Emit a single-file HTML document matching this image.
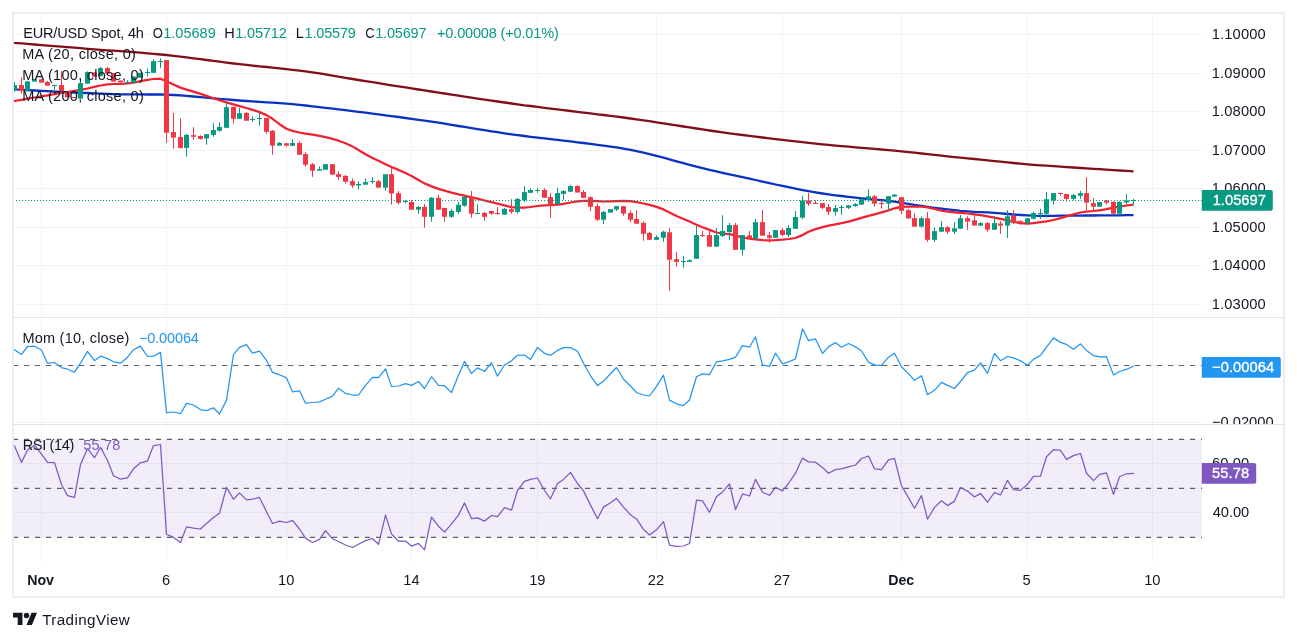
<!DOCTYPE html>
<html><head><meta charset="utf-8"><title>EUR/USD Spot 4h</title>
<style>html,body{margin:0;padding:0;background:#fff}body{width:1297px;height:641px;overflow:hidden}</style></head>
<body>
<svg width="1297" height="641" viewBox="0 0 1297 641" style="display:block;font-family:'Liberation Sans',sans-serif;will-change:transform;opacity:0.999">
<rect width="1297" height="641" fill="#fff"/>
<defs><clipPath id="cpMain"><rect x="14" y="14" width="1188" height="303"/></clipPath><clipPath id="cpMom"><rect x="14" y="318" width="1269" height="106"/></clipPath><clipPath id="cpRsi"><rect x="14" y="425" width="1269" height="137"/></clipPath></defs>
<rect x="41" y="14" width="1" height="548" fill="#f1f3f5"/>
<rect x="166" y="14" width="1" height="548" fill="#f1f3f5"/>
<rect x="286" y="14" width="1" height="548" fill="#f1f3f5"/>
<rect x="411" y="14" width="1" height="548" fill="#f1f3f5"/>
<rect x="537" y="14" width="1" height="548" fill="#f1f3f5"/>
<rect x="656" y="14" width="1" height="548" fill="#f1f3f5"/>
<rect x="782" y="14" width="1" height="548" fill="#f1f3f5"/>
<rect x="901" y="14" width="1" height="548" fill="#f1f3f5"/>
<rect x="1027" y="14" width="1" height="548" fill="#f1f3f5"/>
<rect x="1152" y="14" width="1" height="548" fill="#f1f3f5"/>
<rect x="14" y="34" width="1188" height="1" fill="#f1f3f5"/>
<rect x="14" y="73" width="1188" height="1" fill="#f1f3f5"/>
<rect x="14" y="111" width="1188" height="1" fill="#f1f3f5"/>
<rect x="14" y="150" width="1188" height="1" fill="#f1f3f5"/>
<rect x="14" y="188" width="1188" height="1" fill="#f1f3f5"/>
<rect x="14" y="227" width="1188" height="1" fill="#f1f3f5"/>
<rect x="14" y="265" width="1188" height="1" fill="#f1f3f5"/>
<rect x="14" y="304" width="1188" height="1" fill="#f1f3f5"/>
<rect x="14" y="365" width="1188" height="1" fill="#f1f3f5"/>
<rect x="14" y="422" width="1188" height="1" fill="#f1f3f5"/>
<rect x="14" y="463" width="1188" height="1" fill="#f1f3f5"/>
<rect x="14" y="512" width="1188" height="1" fill="#f1f3f5"/>
<rect x="14" y="439.4" width="1188" height="98.0" fill="#7e57c2" fill-opacity="0.1"/>
<rect x="13" y="317" width="1270" height="1" fill="#e0e3eb"/>
<rect x="13" y="424" width="1270" height="1" fill="#e0e3eb"/>
<path d="M12 12H1285V598H12Z M14 14V596H1283V14Z" fill="#ebedf2" fill-rule="evenodd"/>
<path d="M13.7 42.8 L14.5 42.9 L21.5 43.4 L27.5 43.9 L34.5 44.5 L41.5 45.1 L47.5 45.6 L54.5 46.1 L61.5 46.7 L67.5 47.2 L74.5 47.7 L80.5 48.2 L87.5 48.8 L94.5 49.3 L100.5 49.8 L107.5 50.3 L113.5 50.7 L120.5 51.2 L127.5 51.7 L133.5 52.2 L140.5 52.7 L147.5 53.3 L153.5 53.8 L160.5 54.5 L166.5 55.0 L173.5 55.8 L180.5 56.6 L186.5 57.4 L193.5 58.3 L200.5 59.2 L206.5 60.0 L213.5 60.9 L219.5 61.7 L226.5 62.6 L233.5 63.5 L239.5 64.2 L246.5 64.9 L252.5 65.6 L259.5 66.3 L266.5 67.0 L272.5 67.7 L279.5 68.4 L286.5 69.2 L292.5 69.8 L299.5 70.7 L305.5 71.4 L312.5 72.3 L319.5 73.3 L325.5 74.4 L332.5 75.6 L338.5 76.7 L345.5 77.8 L352.5 79.0 L358.5 80.0 L365.5 81.1 L372.5 82.2 L378.5 83.2 L385.5 84.3 L391.5 85.3 L398.5 86.4 L405.5 87.4 L411.5 88.4 L418.5 89.5 L424.5 90.4 L431.5 91.5 L438.5 92.6 L444.5 93.5 L451.5 94.6 L458.5 95.7 L464.5 96.6 L471.5 97.7 L477.5 98.6 L484.5 99.6 L491.5 100.6 L497.5 101.5 L504.5 102.5 L511.5 103.5 L517.5 104.3 L524.5 105.3 L530.5 106.0 L537.5 106.9 L544.5 107.8 L550.5 108.6 L557.5 109.4 L563.5 110.2 L570.5 111.0 L577.5 111.8 L583.5 112.6 L590.5 113.4 L597.5 114.3 L603.5 115.0 L610.5 115.9 L616.5 116.6 L623.5 117.5 L630.5 118.5 L636.5 119.3 L643.5 120.3 L649.5 121.2 L656.5 122.3 L663.5 123.3 L669.5 124.3 L676.5 125.4 L683.5 126.5 L689.5 127.4 L696.5 128.5 L702.5 129.4 L709.5 130.5 L716.5 131.5 L722.5 132.4 L729.5 133.3 L735.5 134.1 L742.5 135.0 L749.5 135.9 L755.5 136.7 L762.5 137.5 L769.5 138.4 L775.5 139.1 L782.5 139.9 L788.5 140.6 L795.5 141.4 L802.5 142.2 L808.5 142.8 L815.5 143.6 L822.5 144.3 L828.5 144.9 L835.5 145.6 L841.5 146.1 L848.5 146.7 L855.5 147.3 L861.5 147.8 L868.5 148.4 L874.5 148.9 L881.5 149.5 L888.5 150.1 L894.5 150.7 L901.5 151.3 L908.5 152.1 L914.5 152.7 L921.5 153.5 L927.5 154.1 L934.5 154.9 L941.5 155.7 L947.5 156.3 L954.5 157.1 L960.5 157.7 L967.5 158.3 L974.5 159.0 L980.5 159.6 L987.5 160.4 L994.5 161.1 L1000.5 161.7 L1007.5 162.4 L1013.5 163.0 L1020.5 163.7 L1027.5 164.3 L1033.5 164.8 L1040.5 165.3 L1046.5 165.7 L1053.5 166.2 L1060.5 166.7 L1066.5 167.1 L1073.5 167.5 L1080.5 168.0 L1086.5 168.4 L1093.5 168.8 L1099.5 169.2 L1106.5 169.7 L1113.5 170.1 L1119.5 170.5 L1126.5 170.9 L1133.5 171.4" fill="none" stroke="#800f1a" stroke-width="2.35" stroke-linejoin="round" stroke-linecap="butt" clip-path="url(#cpMain)"/>
<path d="M13.7 89.2 L14.5 89.3 L21.5 89.7 L27.5 90.1 L34.5 90.5 L41.5 90.9 L47.5 91.2 L54.5 91.6 L61.5 91.9 L67.5 92.2 L74.5 92.5 L80.5 92.8 L87.5 93.0 L94.5 93.3 L100.5 93.6 L107.5 93.9 L113.5 94.1 L120.5 94.3 L127.5 94.4 L133.5 94.4 L140.5 94.4 L147.5 94.5 L153.5 94.5 L160.5 94.5 L166.5 94.7 L173.5 95.0 L180.5 95.4 L186.5 95.9 L193.5 96.5 L200.5 97.1 L206.5 97.7 L213.5 98.3 L219.5 98.9 L226.5 99.4 L233.5 100.0 L239.5 100.5 L246.5 101.0 L252.5 101.4 L259.5 101.9 L266.5 102.3 L272.5 102.7 L279.5 103.1 L286.5 103.6 L292.5 104.1 L299.5 104.8 L305.5 105.5 L312.5 106.3 L319.5 107.1 L325.5 107.8 L332.5 108.7 L338.5 109.4 L345.5 110.2 L352.5 111.1 L358.5 111.8 L365.5 112.7 L372.5 113.6 L378.5 114.4 L385.5 115.3 L391.5 116.1 L398.5 117.0 L405.5 118.0 L411.5 118.8 L418.5 119.8 L424.5 120.6 L431.5 121.7 L438.5 122.7 L444.5 123.7 L451.5 124.8 L458.5 126.0 L464.5 126.9 L471.5 128.1 L477.5 129.1 L484.5 130.2 L491.5 131.3 L497.5 132.2 L504.5 133.3 L511.5 134.3 L517.5 135.1 L524.5 136.0 L530.5 136.8 L537.5 137.6 L544.5 138.4 L550.5 139.1 L557.5 139.9 L563.5 140.6 L570.5 141.4 L577.5 142.3 L583.5 143.0 L590.5 143.9 L597.5 144.8 L603.5 145.6 L610.5 146.6 L616.5 147.4 L623.5 148.6 L630.5 149.9 L636.5 151.1 L643.5 152.7 L649.5 154.1 L656.5 155.9 L663.5 157.7 L669.5 159.3 L676.5 161.3 L683.5 163.2 L689.5 164.8 L696.5 166.6 L702.5 168.1 L709.5 169.8 L716.5 171.4 L722.5 172.8 L729.5 174.3 L735.5 175.6 L742.5 177.1 L749.5 178.7 L755.5 180.0 L762.5 181.6 L769.5 183.2 L775.5 184.5 L782.5 185.9 L788.5 187.2 L795.5 188.7 L802.5 190.1 L808.5 191.2 L815.5 192.4 L822.5 193.5 L828.5 194.4 L835.5 195.3 L841.5 196.0 L848.5 196.8 L855.5 197.6 L861.5 198.3 L868.5 199.0 L874.5 199.6 L881.5 200.2 L888.5 200.9 L894.5 201.7 L901.5 202.8 L908.5 203.9 L914.5 204.9 L921.5 205.9 L927.5 206.8 L934.5 207.8 L941.5 208.7 L947.5 209.4 L954.5 210.1 L960.5 210.8 L967.5 211.4 L974.5 211.9 L980.5 212.1 L987.5 212.4 L994.5 212.8 L1000.5 213.4 L1007.5 214.0 L1013.5 214.5 L1020.5 215.0 L1027.5 215.4 L1033.5 215.7 L1040.5 215.8 L1046.5 215.8 L1053.5 215.8 L1060.5 215.7 L1066.5 215.7 L1073.5 215.6 L1080.5 215.6 L1086.5 215.5 L1093.5 215.5 L1099.5 215.4 L1106.5 215.3 L1113.5 215.3 L1119.5 215.3 L1126.5 215.2 L1133.5 215.2" fill="none" stroke="#0a32c2" stroke-width="2.3" stroke-linejoin="round" stroke-linecap="butt" clip-path="url(#cpMain)"/>
<path d="M13.7 101.1 L14.5 101.0 L21.5 99.8 L27.5 98.7 L34.5 97.5 L41.5 96.3 L47.5 95.3 L54.5 94.2 L61.5 93.0 L67.5 92.0 L74.5 90.9 L80.5 89.8 L87.5 88.5 L94.5 86.9 L100.5 85.5 L107.5 84.4 L113.5 84.0 L120.5 83.8 L127.5 83.5 L133.5 82.6 L140.5 81.2 L147.5 79.8 L153.5 79.0 L160.5 78.7 L166.5 81.2 L173.5 84.5 L180.5 87.6 L186.5 89.6 L193.5 91.7 L200.5 93.9 L206.5 95.9 L213.5 98.2 L219.5 100.2 L226.5 102.4 L233.5 104.4 L239.5 106.1 L246.5 108.0 L252.5 109.8 L259.5 112.1 L266.5 115.1 L272.5 118.8 L279.5 124.2 L286.5 128.8 L292.5 130.9 L299.5 132.5 L305.5 133.6 L312.5 134.7 L319.5 135.8 L325.5 137.1 L332.5 138.9 L338.5 140.7 L345.5 143.2 L352.5 146.4 L358.5 150.0 L365.5 154.2 L372.5 157.9 L378.5 160.8 L385.5 164.2 L391.5 167.0 L398.5 169.9 L405.5 173.1 L411.5 175.9 L418.5 179.9 L424.5 183.4 L431.5 186.4 L438.5 188.9 L444.5 190.7 L451.5 192.7 L458.5 194.4 L464.5 195.7 L471.5 197.3 L477.5 198.7 L484.5 200.5 L491.5 202.2 L497.5 203.6 L504.5 205.4 L511.5 207.2 L517.5 207.6 L524.5 207.6 L530.5 207.0 L537.5 206.0 L544.5 205.3 L550.5 205.1 L557.5 204.7 L563.5 203.9 L570.5 202.5 L577.5 201.4 L583.5 200.8 L590.5 200.8 L597.5 201.2 L603.5 201.5 L610.5 201.4 L616.5 201.2 L623.5 200.9 L630.5 201.1 L636.5 202.1 L643.5 203.5 L649.5 204.9 L656.5 206.9 L663.5 209.4 L669.5 212.4 L676.5 216.0 L683.5 219.0 L689.5 221.5 L696.5 224.7 L702.5 227.3 L709.5 229.9 L716.5 232.5 L722.5 233.5 L729.5 234.2 L735.5 235.6 L742.5 237.5 L749.5 238.7 L755.5 239.4 L762.5 240.1 L769.5 240.3 L775.5 240.2 L782.5 239.7 L788.5 239.0 L795.5 238.0 L802.5 235.1 L808.5 231.7 L815.5 229.1 L822.5 227.1 L828.5 225.7 L835.5 224.4 L841.5 223.2 L848.5 221.7 L855.5 219.6 L861.5 217.8 L868.5 215.9 L874.5 214.3 L881.5 212.3 L888.5 210.4 L894.5 208.3 L901.5 206.8 L908.5 206.6 L914.5 206.5 L921.5 206.6 L927.5 207.4 L934.5 209.0 L941.5 210.6 L947.5 211.6 L954.5 212.3 L960.5 212.9 L967.5 213.5 L974.5 214.3 L980.5 215.2 L987.5 216.4 L994.5 217.7 L1000.5 218.9 L1007.5 220.4 L1013.5 221.8 L1020.5 223.1 L1027.5 223.6 L1033.5 223.2 L1040.5 222.2 L1046.5 221.3 L1053.5 220.0 L1060.5 218.1 L1066.5 216.3 L1073.5 214.3 L1080.5 212.5 L1086.5 211.6 L1093.5 211.0 L1099.5 210.4 L1106.5 209.1 L1113.5 207.6 L1119.5 206.6 L1126.5 205.5 L1133.5 204.7" fill="none" stroke="#f0222f" stroke-width="2.25" stroke-linejoin="round" stroke-linecap="butt" clip-path="url(#cpMain)"/>
<g clip-path="url(#cpMain)" shape-rendering="auto">
<rect x="14" y="82.1" width="1" height="9.5" fill="#089981"/>
<rect x="12" y="85.1" width="5" height="4.5" fill="#089981"/>
<rect x="21" y="77.1" width="1" height="16.5" fill="#f23645"/>
<rect x="19" y="85.1" width="5" height="6.0" fill="#f23645"/>
<rect x="27" y="81.3" width="1" height="9.3" fill="#089981"/>
<rect x="25" y="81.3" width="5" height="9.3" fill="#089981"/>
<rect x="34" y="79.1" width="1" height="2.5" fill="#089981"/>
<rect x="32" y="79.1" width="5" height="2.5" fill="#089981"/>
<rect x="41" y="79.3" width="1" height="3.3" fill="#f23645"/>
<rect x="39" y="79.3" width="5" height="3.3" fill="#f23645"/>
<rect x="47" y="81.0" width="1" height="4.6" fill="#f23645"/>
<rect x="45" y="82.1" width="5" height="3.5" fill="#f23645"/>
<rect x="54" y="84.6" width="1" height="5.5" fill="#089981"/>
<rect x="52" y="85.0" width="5" height="1.0" fill="#089981"/>
<rect x="61" y="71.1" width="1" height="20.0" fill="#f23645"/>
<rect x="59" y="85.1" width="5" height="6.0" fill="#f23645"/>
<rect x="67" y="91.1" width="1" height="6.2" fill="#f23645"/>
<rect x="65" y="91.1" width="5" height="6.2" fill="#f23645"/>
<rect x="74" y="97.0" width="1" height="1.0" fill="#f23645"/>
<rect x="72" y="97.0" width="5" height="1.0" fill="#f23645"/>
<rect x="80" y="78.1" width="1" height="20.5" fill="#089981"/>
<rect x="78" y="83.1" width="5" height="15.5" fill="#089981"/>
<rect x="87" y="71.3" width="1" height="12.3" fill="#089981"/>
<rect x="85" y="72.1" width="5" height="11.5" fill="#089981"/>
<rect x="94" y="72.5" width="1" height="4.1" fill="#f23645"/>
<rect x="92" y="72.5" width="5" height="4.1" fill="#f23645"/>
<rect x="100" y="67.0" width="1" height="9.1" fill="#089981"/>
<rect x="98" y="68.1" width="5" height="8.0" fill="#089981"/>
<rect x="107" y="66.8" width="1" height="6.8" fill="#f23645"/>
<rect x="105" y="68.1" width="5" height="5.5" fill="#f23645"/>
<rect x="113" y="73.1" width="1" height="8.5" fill="#f23645"/>
<rect x="111" y="73.1" width="5" height="8.5" fill="#f23645"/>
<rect x="120" y="80.6" width="1" height="1.7" fill="#f23645"/>
<rect x="118" y="80.6" width="5" height="1.7" fill="#f23645"/>
<rect x="127" y="80.1" width="1" height="2.9" fill="#089981"/>
<rect x="125" y="82.0" width="5" height="1.0" fill="#089981"/>
<rect x="133" y="76.5" width="1" height="6.2" fill="#089981"/>
<rect x="131" y="76.5" width="5" height="6.2" fill="#089981"/>
<rect x="140" y="72.8" width="1" height="5.0" fill="#089981"/>
<rect x="138" y="72.8" width="5" height="5.0" fill="#089981"/>
<rect x="147" y="68.5" width="1" height="8.0" fill="#089981"/>
<rect x="145" y="72.0" width="5" height="1.0" fill="#089981"/>
<rect x="153" y="59.3" width="1" height="13.5" fill="#089981"/>
<rect x="151" y="61.1" width="5" height="11.7" fill="#089981"/>
<rect x="160" y="58.4" width="1" height="9.5" fill="#089981"/>
<rect x="158" y="61.0" width="5" height="1.0" fill="#089981"/>
<rect x="166" y="60.1" width="1" height="82.8" fill="#f23645"/>
<rect x="164" y="60.1" width="5" height="72.6" fill="#f23645"/>
<rect x="173" y="113.0" width="1" height="35.7" fill="#f23645"/>
<rect x="171" y="132.1" width="5" height="5.5" fill="#f23645"/>
<rect x="180" y="118.3" width="1" height="30.4" fill="#f23645"/>
<rect x="178" y="137.0" width="5" height="10.9" fill="#f23645"/>
<rect x="186" y="133.9" width="1" height="22.8" fill="#089981"/>
<rect x="184" y="134.9" width="5" height="13.0" fill="#089981"/>
<rect x="193" y="127.1" width="1" height="12.6" fill="#f23645"/>
<rect x="191" y="135.2" width="5" height="1.6" fill="#f23645"/>
<rect x="200" y="135.2" width="1" height="4.5" fill="#f23645"/>
<rect x="198" y="136.0" width="5" height="2.9" fill="#f23645"/>
<rect x="206" y="134.2" width="1" height="10.5" fill="#089981"/>
<rect x="204" y="134.2" width="5" height="4.3" fill="#089981"/>
<rect x="213" y="123.1" width="1" height="13.7" fill="#089981"/>
<rect x="211" y="130.0" width="5" height="4.9" fill="#089981"/>
<rect x="219" y="122.2" width="1" height="9.6" fill="#089981"/>
<rect x="217" y="126.9" width="5" height="3.9" fill="#089981"/>
<rect x="226" y="102.2" width="1" height="25.6" fill="#089981"/>
<rect x="224" y="107.2" width="5" height="20.6" fill="#089981"/>
<rect x="233" y="106.8" width="1" height="16.9" fill="#f23645"/>
<rect x="231" y="106.8" width="5" height="12.0" fill="#f23645"/>
<rect x="239" y="108.0" width="1" height="10.8" fill="#089981"/>
<rect x="237" y="113.2" width="5" height="5.6" fill="#089981"/>
<rect x="246" y="112.1" width="1" height="8.6" fill="#f23645"/>
<rect x="244" y="113.0" width="5" height="7.7" fill="#f23645"/>
<rect x="252" y="116.3" width="1" height="5.7" fill="#089981"/>
<rect x="250" y="119.0" width="5" height="1.0" fill="#089981"/>
<rect x="259" y="112.1" width="1" height="13.6" fill="#089981"/>
<rect x="257" y="118.0" width="5" height="1.0" fill="#089981"/>
<rect x="266" y="117.9" width="1" height="15.7" fill="#f23645"/>
<rect x="264" y="117.9" width="5" height="13.9" fill="#f23645"/>
<rect x="272" y="130.0" width="1" height="24.7" fill="#f23645"/>
<rect x="270" y="130.8" width="5" height="14.8" fill="#f23645"/>
<rect x="279" y="142.0" width="1" height="3.6" fill="#089981"/>
<rect x="277" y="142.9" width="5" height="2.7" fill="#089981"/>
<rect x="286" y="143.2" width="1" height="3.4" fill="#f23645"/>
<rect x="284" y="143.2" width="5" height="2.4" fill="#f23645"/>
<rect x="292" y="139.3" width="1" height="6.5" fill="#089981"/>
<rect x="290" y="143.0" width="5" height="2.8" fill="#089981"/>
<rect x="299" y="141.3" width="1" height="13.4" fill="#f23645"/>
<rect x="297" y="143.0" width="5" height="11.7" fill="#f23645"/>
<rect x="305" y="152.2" width="1" height="14.6" fill="#f23645"/>
<rect x="303" y="154.1" width="5" height="10.7" fill="#f23645"/>
<rect x="312" y="163.1" width="1" height="13.8" fill="#f23645"/>
<rect x="310" y="164.3" width="5" height="6.4" fill="#f23645"/>
<rect x="319" y="166.4" width="1" height="4.3" fill="#089981"/>
<rect x="317" y="169.2" width="5" height="1.5" fill="#089981"/>
<rect x="325" y="164.2" width="1" height="5.5" fill="#089981"/>
<rect x="323" y="164.2" width="5" height="5.5" fill="#089981"/>
<rect x="332" y="164.2" width="1" height="10.5" fill="#f23645"/>
<rect x="330" y="164.2" width="5" height="10.5" fill="#f23645"/>
<rect x="338" y="171.3" width="1" height="8.4" fill="#f23645"/>
<rect x="336" y="174.2" width="5" height="2.7" fill="#f23645"/>
<rect x="345" y="175.0" width="1" height="8.7" fill="#f23645"/>
<rect x="343" y="175.9" width="5" height="5.9" fill="#f23645"/>
<rect x="352" y="178.4" width="1" height="9.3" fill="#f23645"/>
<rect x="350" y="181.2" width="5" height="4.3" fill="#f23645"/>
<rect x="358" y="181.2" width="1" height="8.4" fill="#089981"/>
<rect x="356" y="184.0" width="5" height="1.5" fill="#089981"/>
<rect x="365" y="178.4" width="1" height="6.3" fill="#089981"/>
<rect x="363" y="182.1" width="5" height="2.6" fill="#089981"/>
<rect x="372" y="177.1" width="1" height="6.6" fill="#089981"/>
<rect x="370" y="181.0" width="5" height="1.0" fill="#089981"/>
<rect x="378" y="180.0" width="1" height="7.6" fill="#f23645"/>
<rect x="376" y="181.2" width="5" height="6.4" fill="#f23645"/>
<rect x="385" y="174.2" width="1" height="16.5" fill="#089981"/>
<rect x="383" y="174.2" width="5" height="13.4" fill="#089981"/>
<rect x="391" y="168.2" width="1" height="36.4" fill="#f23645"/>
<rect x="389" y="174.2" width="5" height="19.3" fill="#f23645"/>
<rect x="398" y="191.1" width="1" height="13.5" fill="#f23645"/>
<rect x="396" y="193.2" width="5" height="9.6" fill="#f23645"/>
<rect x="405" y="200.2" width="1" height="3.2" fill="#089981"/>
<rect x="403" y="201.0" width="5" height="1.0" fill="#089981"/>
<rect x="411" y="200.2" width="1" height="9.5" fill="#f23645"/>
<rect x="409" y="202.0" width="5" height="7.7" fill="#f23645"/>
<rect x="418" y="206.3" width="1" height="7.4" fill="#089981"/>
<rect x="416" y="206.9" width="5" height="2.8" fill="#089981"/>
<rect x="424" y="204.2" width="1" height="23.5" fill="#f23645"/>
<rect x="422" y="206.9" width="5" height="9.9" fill="#f23645"/>
<rect x="431" y="197.1" width="1" height="24.6" fill="#089981"/>
<rect x="429" y="197.7" width="5" height="19.1" fill="#089981"/>
<rect x="438" y="195.0" width="1" height="14.7" fill="#f23645"/>
<rect x="436" y="197.9" width="5" height="11.8" fill="#f23645"/>
<rect x="444" y="207.9" width="1" height="13.8" fill="#f23645"/>
<rect x="442" y="207.9" width="5" height="8.9" fill="#f23645"/>
<rect x="451" y="209.2" width="1" height="8.6" fill="#089981"/>
<rect x="449" y="210.9" width="5" height="5.9" fill="#089981"/>
<rect x="458" y="202.0" width="1" height="11.7" fill="#089981"/>
<rect x="456" y="204.8" width="5" height="7.1" fill="#089981"/>
<rect x="464" y="195.8" width="1" height="10.9" fill="#089981"/>
<rect x="462" y="196.8" width="5" height="8.9" fill="#089981"/>
<rect x="471" y="190.9" width="1" height="26.9" fill="#f23645"/>
<rect x="469" y="196.8" width="5" height="16.9" fill="#f23645"/>
<rect x="477" y="204.2" width="1" height="9.8" fill="#089981"/>
<rect x="475" y="213.0" width="5" height="1.0" fill="#089981"/>
<rect x="484" y="211.9" width="1" height="8.9" fill="#f23645"/>
<rect x="482" y="212.9" width="5" height="3.9" fill="#f23645"/>
<rect x="491" y="211.0" width="1" height="3.7" fill="#f23645"/>
<rect x="489" y="211.0" width="5" height="2.7" fill="#f23645"/>
<rect x="497" y="207.2" width="1" height="7.5" fill="#f23645"/>
<rect x="495" y="213.0" width="5" height="1.0" fill="#f23645"/>
<rect x="504" y="207.9" width="1" height="6.8" fill="#089981"/>
<rect x="502" y="208.8" width="5" height="5.9" fill="#089981"/>
<rect x="511" y="199.2" width="1" height="14.5" fill="#f23645"/>
<rect x="509" y="209.2" width="5" height="2.7" fill="#f23645"/>
<rect x="517" y="198.1" width="1" height="15.6" fill="#089981"/>
<rect x="515" y="198.9" width="5" height="13.0" fill="#089981"/>
<rect x="524" y="186.0" width="1" height="15.8" fill="#089981"/>
<rect x="522" y="192.1" width="5" height="8.1" fill="#089981"/>
<rect x="530" y="188.2" width="1" height="4.6" fill="#089981"/>
<rect x="528" y="190.0" width="5" height="2.8" fill="#089981"/>
<rect x="537" y="188.2" width="1" height="4.6" fill="#089981"/>
<rect x="535" y="190.0" width="5" height="1.0" fill="#089981"/>
<rect x="544" y="188.2" width="1" height="9.5" fill="#f23645"/>
<rect x="542" y="190.0" width="5" height="7.7" fill="#f23645"/>
<rect x="550" y="193.1" width="1" height="24.7" fill="#f23645"/>
<rect x="548" y="197.1" width="5" height="7.1" fill="#f23645"/>
<rect x="557" y="187.8" width="1" height="16.2" fill="#089981"/>
<rect x="555" y="193.1" width="5" height="10.9" fill="#089981"/>
<rect x="563" y="190.0" width="1" height="9.7" fill="#089981"/>
<rect x="561" y="191.0" width="5" height="2.8" fill="#089981"/>
<rect x="570" y="185.1" width="1" height="6.6" fill="#089981"/>
<rect x="568" y="186.1" width="5" height="5.6" fill="#089981"/>
<rect x="577" y="185.1" width="1" height="7.4" fill="#f23645"/>
<rect x="575" y="186.1" width="5" height="6.4" fill="#f23645"/>
<rect x="583" y="190.0" width="1" height="7.8" fill="#f23645"/>
<rect x="581" y="192.0" width="5" height="5.8" fill="#f23645"/>
<rect x="590" y="196.2" width="1" height="14.8" fill="#f23645"/>
<rect x="588" y="197.2" width="5" height="9.6" fill="#f23645"/>
<rect x="597" y="203.6" width="1" height="17.3" fill="#f23645"/>
<rect x="595" y="206.1" width="5" height="13.6" fill="#f23645"/>
<rect x="603" y="211.0" width="1" height="13.0" fill="#089981"/>
<rect x="601" y="212.0" width="5" height="7.7" fill="#089981"/>
<rect x="610" y="209.2" width="1" height="3.4" fill="#089981"/>
<rect x="608" y="209.2" width="5" height="3.4" fill="#089981"/>
<rect x="616" y="206.2" width="1" height="4.8" fill="#089981"/>
<rect x="614" y="206.2" width="5" height="3.3" fill="#089981"/>
<rect x="623" y="206.2" width="1" height="9.5" fill="#f23645"/>
<rect x="621" y="206.2" width="5" height="7.4" fill="#f23645"/>
<rect x="630" y="210.2" width="1" height="11.7" fill="#f23645"/>
<rect x="628" y="213.0" width="5" height="6.7" fill="#f23645"/>
<rect x="636" y="210.2" width="1" height="13.5" fill="#f23645"/>
<rect x="634" y="219.0" width="5" height="4.7" fill="#f23645"/>
<rect x="643" y="221.3" width="1" height="19.5" fill="#f23645"/>
<rect x="641" y="222.9" width="5" height="10.9" fill="#f23645"/>
<rect x="649" y="232.0" width="1" height="7.8" fill="#f23645"/>
<rect x="647" y="233.0" width="5" height="6.8" fill="#f23645"/>
<rect x="656" y="235.2" width="1" height="4.6" fill="#089981"/>
<rect x="654" y="237.1" width="5" height="2.7" fill="#089981"/>
<rect x="663" y="230.8" width="1" height="11.1" fill="#089981"/>
<rect x="661" y="231.7" width="5" height="6.0" fill="#089981"/>
<rect x="669" y="228.0" width="1" height="62.9" fill="#f23645"/>
<rect x="667" y="232.3" width="5" height="27.4" fill="#f23645"/>
<rect x="676" y="252.0" width="1" height="14.8" fill="#f23645"/>
<rect x="674" y="259.2" width="5" height="2.7" fill="#f23645"/>
<rect x="683" y="256.1" width="1" height="11.7" fill="#089981"/>
<rect x="681" y="261.0" width="5" height="1.0" fill="#089981"/>
<rect x="689" y="259.2" width="1" height="2.7" fill="#089981"/>
<rect x="687" y="260.3" width="5" height="1.6" fill="#089981"/>
<rect x="696" y="226.1" width="1" height="32.7" fill="#089981"/>
<rect x="694" y="235.1" width="5" height="23.7" fill="#089981"/>
<rect x="702" y="231.0" width="1" height="6.2" fill="#f23645"/>
<rect x="700" y="235.0" width="5" height="1.0" fill="#f23645"/>
<rect x="709" y="231.0" width="1" height="15.7" fill="#f23645"/>
<rect x="707" y="235.1" width="5" height="11.6" fill="#f23645"/>
<rect x="716" y="228.0" width="1" height="18.7" fill="#089981"/>
<rect x="714" y="235.1" width="5" height="11.6" fill="#089981"/>
<rect x="722" y="215.2" width="1" height="21.8" fill="#089981"/>
<rect x="720" y="231.0" width="5" height="5.0" fill="#089981"/>
<rect x="729" y="223.0" width="1" height="17.0" fill="#089981"/>
<rect x="727" y="225.1" width="5" height="6.9" fill="#089981"/>
<rect x="735" y="223.0" width="1" height="26.8" fill="#f23645"/>
<rect x="733" y="225.1" width="5" height="24.7" fill="#f23645"/>
<rect x="742" y="235.1" width="1" height="20.6" fill="#089981"/>
<rect x="740" y="235.1" width="5" height="14.7" fill="#089981"/>
<rect x="749" y="231.0" width="1" height="7.5" fill="#f23645"/>
<rect x="747" y="235.4" width="5" height="3.1" fill="#f23645"/>
<rect x="755" y="219.0" width="1" height="19.7" fill="#089981"/>
<rect x="753" y="222.2" width="5" height="16.5" fill="#089981"/>
<rect x="762" y="210.0" width="1" height="25.6" fill="#f23645"/>
<rect x="760" y="222.2" width="5" height="13.4" fill="#f23645"/>
<rect x="769" y="232.0" width="1" height="10.8" fill="#f23645"/>
<rect x="767" y="235.2" width="5" height="2.7" fill="#f23645"/>
<rect x="775" y="230.1" width="1" height="7.7" fill="#089981"/>
<rect x="773" y="230.1" width="5" height="7.7" fill="#089981"/>
<rect x="782" y="228.0" width="1" height="8.0" fill="#f23645"/>
<rect x="780" y="230.1" width="5" height="4.9" fill="#f23645"/>
<rect x="788" y="225.1" width="1" height="11.9" fill="#089981"/>
<rect x="786" y="228.0" width="5" height="7.0" fill="#089981"/>
<rect x="795" y="211.1" width="1" height="17.7" fill="#089981"/>
<rect x="793" y="217.0" width="5" height="11.8" fill="#089981"/>
<rect x="802" y="196.0" width="1" height="22.9" fill="#089981"/>
<rect x="800" y="200.4" width="5" height="17.2" fill="#089981"/>
<rect x="808" y="193.0" width="1" height="12.9" fill="#f23645"/>
<rect x="806" y="200.4" width="5" height="3.3" fill="#f23645"/>
<rect x="815" y="200.4" width="1" height="3.6" fill="#f23645"/>
<rect x="813" y="203.0" width="5" height="1.0" fill="#f23645"/>
<rect x="822" y="203.1" width="1" height="5.9" fill="#f23645"/>
<rect x="820" y="203.1" width="5" height="4.7" fill="#f23645"/>
<rect x="828" y="204.1" width="1" height="10.8" fill="#f23645"/>
<rect x="826" y="207.1" width="5" height="4.7" fill="#f23645"/>
<rect x="835" y="205.0" width="1" height="10.8" fill="#089981"/>
<rect x="833" y="208.1" width="5" height="3.7" fill="#089981"/>
<rect x="841" y="205.0" width="1" height="9.9" fill="#089981"/>
<rect x="839" y="207.0" width="5" height="1.0" fill="#089981"/>
<rect x="848" y="205.3" width="1" height="3.7" fill="#089981"/>
<rect x="846" y="205.3" width="5" height="2.5" fill="#089981"/>
<rect x="855" y="203.0" width="1" height="3.9" fill="#089981"/>
<rect x="853" y="204.1" width="5" height="1.8" fill="#089981"/>
<rect x="861" y="197.8" width="1" height="6.8" fill="#089981"/>
<rect x="859" y="199.1" width="5" height="5.5" fill="#089981"/>
<rect x="868" y="189.2" width="1" height="12.7" fill="#089981"/>
<rect x="866" y="196.3" width="5" height="3.4" fill="#089981"/>
<rect x="874" y="195.0" width="1" height="11.8" fill="#f23645"/>
<rect x="872" y="196.3" width="5" height="7.3" fill="#f23645"/>
<rect x="881" y="200.9" width="1" height="7.7" fill="#f23645"/>
<rect x="879" y="203.0" width="5" height="1.0" fill="#f23645"/>
<rect x="888" y="196.2" width="1" height="14.8" fill="#089981"/>
<rect x="886" y="196.2" width="5" height="7.4" fill="#089981"/>
<rect x="894" y="193.9" width="1" height="2.7" fill="#089981"/>
<rect x="892" y="194.7" width="5" height="1.9" fill="#089981"/>
<rect x="901" y="197.2" width="1" height="16.7" fill="#f23645"/>
<rect x="899" y="197.2" width="5" height="13.6" fill="#f23645"/>
<rect x="908" y="208.9" width="1" height="9.6" fill="#f23645"/>
<rect x="906" y="210.2" width="5" height="8.3" fill="#f23645"/>
<rect x="914" y="213.2" width="1" height="13.4" fill="#f23645"/>
<rect x="912" y="218.2" width="5" height="8.4" fill="#f23645"/>
<rect x="921" y="216.3" width="1" height="11.5" fill="#089981"/>
<rect x="919" y="218.2" width="5" height="8.4" fill="#089981"/>
<rect x="927" y="212.0" width="1" height="29.9" fill="#f23645"/>
<rect x="925" y="218.2" width="5" height="21.6" fill="#f23645"/>
<rect x="934" y="227.1" width="1" height="14.8" fill="#089981"/>
<rect x="932" y="231.1" width="5" height="8.7" fill="#089981"/>
<rect x="941" y="221.0" width="1" height="10.7" fill="#089981"/>
<rect x="939" y="227.2" width="5" height="4.5" fill="#089981"/>
<rect x="947" y="226.0" width="1" height="8.0" fill="#f23645"/>
<rect x="945" y="227.2" width="5" height="4.5" fill="#f23645"/>
<rect x="954" y="222.1" width="1" height="11.9" fill="#089981"/>
<rect x="952" y="228.3" width="5" height="3.4" fill="#089981"/>
<rect x="960" y="215.1" width="1" height="13.6" fill="#089981"/>
<rect x="958" y="218.2" width="5" height="10.5" fill="#089981"/>
<rect x="967" y="216.3" width="1" height="13.6" fill="#f23645"/>
<rect x="965" y="218.2" width="5" height="3.4" fill="#f23645"/>
<rect x="974" y="213.2" width="1" height="12.4" fill="#f23645"/>
<rect x="972" y="220.3" width="5" height="5.3" fill="#f23645"/>
<rect x="980" y="222.1" width="1" height="3.5" fill="#089981"/>
<rect x="978" y="223.1" width="5" height="2.5" fill="#089981"/>
<rect x="987" y="221.9" width="1" height="9.8" fill="#f23645"/>
<rect x="985" y="223.1" width="5" height="6.6" fill="#f23645"/>
<rect x="994" y="216.3" width="1" height="13.4" fill="#089981"/>
<rect x="992" y="223.1" width="5" height="6.6" fill="#089981"/>
<rect x="1000" y="221.0" width="1" height="12.8" fill="#f23645"/>
<rect x="998" y="223.5" width="5" height="2.1" fill="#f23645"/>
<rect x="1007" y="210.2" width="1" height="27.7" fill="#089981"/>
<rect x="1005" y="216.3" width="5" height="9.3" fill="#089981"/>
<rect x="1013" y="210.0" width="1" height="14.0" fill="#f23645"/>
<rect x="1011" y="215.8" width="5" height="6.9" fill="#f23645"/>
<rect x="1020" y="220.3" width="1" height="4.5" fill="#f23645"/>
<rect x="1018" y="221.1" width="5" height="1.9" fill="#f23645"/>
<rect x="1027" y="218.3" width="1" height="5.7" fill="#089981"/>
<rect x="1025" y="218.3" width="5" height="4.7" fill="#089981"/>
<rect x="1033" y="211.9" width="1" height="7.8" fill="#089981"/>
<rect x="1031" y="213.1" width="5" height="5.6" fill="#089981"/>
<rect x="1040" y="208.8" width="1" height="10.1" fill="#089981"/>
<rect x="1038" y="213.0" width="5" height="1.0" fill="#089981"/>
<rect x="1046" y="192.1" width="1" height="25.7" fill="#089981"/>
<rect x="1044" y="199.2" width="5" height="14.5" fill="#089981"/>
<rect x="1053" y="193.1" width="1" height="11.6" fill="#089981"/>
<rect x="1051" y="193.1" width="5" height="7.3" fill="#089981"/>
<rect x="1060" y="193.0" width="1" height="2.8" fill="#f23645"/>
<rect x="1058" y="193.0" width="5" height="1.0" fill="#f23645"/>
<rect x="1066" y="194.0" width="1" height="7.8" fill="#f23645"/>
<rect x="1064" y="194.0" width="5" height="4.9" fill="#f23645"/>
<rect x="1073" y="194.0" width="1" height="6.2" fill="#089981"/>
<rect x="1071" y="195.0" width="5" height="3.9" fill="#089981"/>
<rect x="1080" y="190.9" width="1" height="8.0" fill="#089981"/>
<rect x="1078" y="193.1" width="5" height="2.7" fill="#089981"/>
<rect x="1086" y="177.1" width="1" height="32.9" fill="#f23645"/>
<rect x="1084" y="193.1" width="5" height="9.5" fill="#f23645"/>
<rect x="1093" y="198.1" width="1" height="11.9" fill="#f23645"/>
<rect x="1091" y="203.2" width="5" height="3.5" fill="#f23645"/>
<rect x="1099" y="202.0" width="1" height="4.7" fill="#089981"/>
<rect x="1097" y="202.0" width="5" height="4.7" fill="#089981"/>
<rect x="1106" y="200.4" width="1" height="4.3" fill="#f23645"/>
<rect x="1104" y="200.4" width="5" height="2.2" fill="#f23645"/>
<rect x="1113" y="201.0" width="1" height="12.7" fill="#f23645"/>
<rect x="1111" y="202.0" width="5" height="11.7" fill="#f23645"/>
<rect x="1119" y="201.0" width="1" height="12.7" fill="#089981"/>
<rect x="1117" y="202.0" width="5" height="11.7" fill="#089981"/>
<rect x="1126" y="194.0" width="1" height="10.7" fill="#089981"/>
<rect x="1124" y="200.4" width="5" height="2.0" fill="#089981"/>
<rect x="1133" y="198.9" width="1" height="5.8" fill="#089981"/>
<rect x="1131" y="200.0" width="5" height="1.0" fill="#089981"/>
</g>
<line x1="16" y1="200.5" x2="1202" y2="200.5" stroke="#089981" stroke-width="1.1" stroke-dasharray="1.1 1.9"/>
<line x1="14" y1="365.5" x2="1202" y2="365.5" stroke="#5d606b" stroke-width="1.2" stroke-dasharray="5.1 5.9" stroke-dashoffset="1"/>
<line x1="14" y1="439.4" x2="1202" y2="439.4" stroke="#5d606b" stroke-width="1.2" stroke-dasharray="5.1 5.9" stroke-dashoffset="1"/>
<line x1="14" y1="488.3" x2="1202" y2="488.3" stroke="#5d606b" stroke-width="1.2" stroke-dasharray="5.1 5.9" stroke-dashoffset="1"/>
<line x1="14" y1="537.4" x2="1202" y2="537.4" stroke="#5d606b" stroke-width="1.2" stroke-dasharray="5.1 5.9" stroke-dashoffset="1"/>
<path d="M14.5 349.7 L21.5 354.4 L27.5 346.5 L34.5 346.2 L41.5 350.0 L47.5 363.2 L54.5 362.5 L61.5 367.6 L67.5 369.2 L74.5 372.2 L80.5 363.2 L87.5 351.4 L94.5 360.7 L100.5 356.2 L107.5 358.6 L113.5 361.8 L120.5 363.2 L127.5 357.2 L133.5 349.7 L140.5 346.1 L147.5 356.5 L153.5 356.2 L160.5 352.4 L166.5 412.7 L173.5 412.0 L180.5 413.7 L186.5 403.4 L193.5 405.0 L200.5 409.6 L206.5 410.6 L213.5 407.8 L219.5 414.0 L226.5 400.1 L233.5 354.7 L239.5 347.4 L246.5 344.6 L252.5 353.2 L259.5 351.1 L266.5 360.3 L272.5 372.4 L279.5 374.7 L286.5 377.9 L292.5 391.8 L299.5 390.8 L305.5 403.2 L312.5 402.5 L319.5 401.9 L325.5 399.3 L332.5 396.1 L338.5 388.2 L345.5 393.3 L352.5 395.0 L358.5 395.0 L365.5 385.3 L372.5 377.4 L378.5 377.6 L385.5 368.8 L391.5 386.4 L398.5 386.0 L405.5 383.6 L411.5 385.4 L418.5 381.5 L424.5 388.5 L431.5 376.7 L438.5 385.3 L444.5 385.7 L451.5 392.6 L458.5 375.3 L464.5 361.4 L471.5 373.5 L477.5 367.9 L484.5 371.5 L491.5 362.7 L497.5 376.2 L504.5 365.0 L511.5 360.8 L517.5 355.3 L524.5 355.0 L530.5 359.6 L537.5 347.4 L544.5 353.3 L550.5 355.3 L557.5 350.4 L563.5 347.6 L570.5 347.6 L577.5 351.2 L583.5 363.3 L590.5 375.8 L597.5 385.6 L603.5 381.1 L610.5 373.8 L616.5 367.5 L623.5 379.3 L630.5 386.0 L636.5 392.5 L643.5 395.0 L649.5 396.0 L656.5 386.4 L663.5 375.2 L669.5 400.1 L676.5 403.8 L683.5 405.6 L689.5 400.0 L696.5 376.7 L702.5 373.9 L709.5 374.6 L716.5 361.8 L722.5 360.8 L729.5 359.3 L735.5 357.2 L742.5 345.6 L749.5 347.2 L755.5 336.8 L762.5 365.0 L769.5 366.4 L775.5 353.2 L782.5 363.9 L788.5 361.8 L795.5 359.0 L802.5 328.8 L808.5 340.6 L815.5 338.9 L822.5 353.5 L828.5 346.9 L835.5 342.6 L841.5 347.2 L848.5 343.5 L855.5 346.9 L861.5 351.0 L868.5 362.1 L874.5 364.9 L881.5 365.3 L888.5 357.2 L894.5 353.2 L901.5 366.7 L908.5 373.6 L914.5 380.3 L921.5 375.7 L927.5 394.7 L934.5 390.3 L941.5 382.4 L947.5 385.4 L954.5 388.5 L960.5 381.5 L967.5 372.6 L974.5 370.1 L980.5 362.8 L987.5 373.3 L994.5 353.5 L1000.5 360.7 L1007.5 356.5 L1013.5 357.9 L1020.5 360.8 L1027.5 365.3 L1033.5 359.4 L1040.5 355.3 L1046.5 347.2 L1053.5 337.9 L1060.5 342.4 L1066.5 344.4 L1073.5 349.3 L1080.5 343.8 L1086.5 350.4 L1093.5 355.6 L1099.5 356.9 L1106.5 356.7 L1113.5 375.0 L1119.5 371.5 L1126.5 369.4 L1133.5 366.2" fill="none" stroke="#2196f3" stroke-width="1.25" stroke-linejoin="round" stroke-linecap="round" clip-path="url(#cpMom)"/>
<path d="M14.5 445.9 L21.5 462.6 L27.5 450.0 L34.5 445.2 L41.5 454.2 L47.5 462.3 L54.5 462.6 L61.5 484.5 L67.5 495.6 L74.5 497.3 L80.5 464.6 L87.5 448.7 L94.5 457.7 L100.5 447.3 L107.5 460.5 L113.5 475.8 L120.5 479.2 L127.5 477.8 L133.5 468.8 L140.5 462.8 L147.5 460.9 L153.5 445.6 L160.5 444.5 L166.5 534.2 L173.5 537.4 L180.5 542.5 L186.5 526.9 L193.5 528.1 L200.5 529.0 L206.5 523.5 L213.5 517.5 L219.5 513.3 L226.5 487.4 L233.5 499.2 L239.5 492.9 L246.5 499.9 L252.5 499.2 L259.5 497.4 L266.5 511.7 L272.5 523.5 L279.5 521.1 L286.5 522.5 L292.5 520.3 L299.5 529.0 L305.5 538.1 L312.5 542.5 L319.5 539.4 L325.5 530.7 L332.5 538.8 L338.5 541.5 L345.5 545.0 L352.5 547.5 L358.5 544.3 L365.5 540.6 L372.5 538.5 L378.5 544.3 L385.5 515.1 L391.5 533.9 L398.5 541.2 L405.5 541.1 L411.5 546.1 L418.5 543.3 L424.5 549.9 L431.5 517.2 L438.5 526.2 L444.5 532.1 L451.5 523.9 L458.5 515.1 L464.5 502.9 L471.5 518.6 L477.5 517.9 L484.5 521.1 L491.5 515.5 L497.5 516.6 L504.5 507.6 L511.5 510.2 L517.5 490.5 L524.5 481.4 L530.5 479.4 L537.5 478.0 L544.5 490.5 L550.5 498.8 L557.5 483.5 L563.5 479.4 L570.5 472.4 L577.5 483.5 L583.5 490.9 L590.5 505.1 L597.5 518.7 L603.5 507.1 L610.5 502.7 L616.5 498.4 L623.5 507.1 L630.5 514.8 L636.5 518.9 L643.5 529.4 L649.5 535.0 L656.5 529.8 L663.5 521.7 L669.5 545.1 L676.5 546.4 L683.5 546.0 L689.5 543.5 L696.5 500.2 L702.5 500.9 L709.5 512.3 L716.5 496.7 L722.5 491.9 L729.5 483.9 L735.5 509.5 L742.5 493.9 L749.5 496.0 L755.5 479.4 L762.5 492.3 L769.5 495.3 L775.5 487.3 L782.5 490.9 L788.5 483.5 L795.5 473.2 L802.5 458.1 L808.5 461.9 L815.5 462.2 L822.5 467.4 L828.5 473.3 L835.5 469.6 L841.5 468.8 L848.5 466.8 L855.5 465.0 L861.5 458.5 L868.5 456.0 L874.5 468.9 L881.5 469.6 L888.5 459.9 L894.5 458.3 L901.5 485.8 L908.5 497.6 L914.5 508.3 L921.5 495.6 L927.5 519.2 L934.5 507.4 L941.5 500.8 L947.5 505.6 L954.5 501.1 L960.5 487.5 L967.5 491.1 L974.5 496.9 L980.5 493.5 L987.5 502.2 L994.5 492.5 L1000.5 494.9 L1007.5 480.3 L1013.5 489.6 L1020.5 490.4 L1027.5 484.2 L1033.5 476.4 L1040.5 476.1 L1046.5 456.7 L1053.5 449.7 L1060.5 450.4 L1066.5 459.4 L1073.5 455.6 L1080.5 453.5 L1086.5 473.3 L1093.5 480.6 L1099.5 474.4 L1106.5 472.9 L1113.5 494.4 L1119.5 476.8 L1126.5 473.8 L1133.5 473.3" fill="none" stroke="#7e57c2" stroke-width="1.25" stroke-linejoin="round" stroke-linecap="round" clip-path="url(#cpRsi)"/>
<text x="1211.66" y="39.0" font-size="14.7" fill="#131722" textLength="54.06" lengthAdjust="spacing">1.10000</text>
<text x="1211.66" y="78.0" font-size="14.7" fill="#131722" textLength="54.06" lengthAdjust="spacing">1.09000</text>
<text x="1211.66" y="116.0" font-size="14.7" fill="#131722" textLength="54.06" lengthAdjust="spacing">1.08000</text>
<text x="1211.66" y="155.0" font-size="14.7" fill="#131722" textLength="54.06" lengthAdjust="spacing">1.07000</text>
<text x="1211.66" y="193.0" font-size="14.7" fill="#131722" textLength="54.06" lengthAdjust="spacing">1.06000</text>
<text x="1211.66" y="232.0" font-size="14.7" fill="#131722" textLength="54.06" lengthAdjust="spacing">1.05000</text>
<text x="1211.66" y="270.0" font-size="14.7" fill="#131722" textLength="54.06" lengthAdjust="spacing">1.04000</text>
<text x="1211.66" y="309.0" font-size="14.7" fill="#131722" textLength="54.06" lengthAdjust="spacing">1.03000</text>
<g clip-path="url(#cpMom)">
<text x="1212.02" y="427.0" font-size="14.7" fill="#131722" textLength="61.54" lengthAdjust="spacing">&#8722;0.02000</text>
</g>
<text x="1212.02" y="468.0" font-size="14.7" fill="#131722" textLength="37.20" lengthAdjust="spacing">60.00</text>
<text x="1212.72" y="516.9" font-size="14.7" fill="#131722" textLength="36.50" lengthAdjust="spacing">40.00</text>
<path d="M1201.8 190.1H1270.8a2 2 0 0 1 2 2V208.8a2 2 0 0 1 -2 2H1201.8Z" fill="#089981"/>
<text x="1212.68" y="205.2" font-size="14.7" fill="#fff" textLength="53.22" lengthAdjust="spacing" stroke="#fff" stroke-width="0.35">1.05697</text>
<path d="M1201.8 356.9H1278.8a2 2 0 0 1 2 2V375.8a2 2 0 0 1 -2 2H1201.8Z" fill="#2196f3"/>
<text x="1212.02" y="372.2" font-size="14.7" fill="#fff" textLength="62.20" lengthAdjust="spacing" stroke="#fff" stroke-width="0.35">&#8722;0.00064</text>
<path d="M1201.8 463.1H1254.2a2 2 0 0 1 2 2V481.7a2 2 0 0 1 -2 2H1201.8Z" fill="#7e57c2"/>
<text x="1212.02" y="478.1" font-size="14.7" fill="#fff" textLength="37.20" lengthAdjust="spacing" stroke="#fff" stroke-width="0.35">55.78</text>
<text x="40.60" y="585.2" font-size="14.2" fill="#131722" font-weight="bold" text-anchor="middle">Nov</text>
<text x="166.00" y="585.2" font-size="14.7" fill="#131722" text-anchor="middle">6</text>
<text x="286.20" y="585.2" font-size="14.7" fill="#131722" text-anchor="middle">10</text>
<text x="411.50" y="585.2" font-size="14.7" fill="#131722" text-anchor="middle">14</text>
<text x="537.30" y="585.2" font-size="14.7" fill="#131722" text-anchor="middle">19</text>
<text x="656.00" y="585.2" font-size="14.7" fill="#131722" text-anchor="middle">22</text>
<text x="781.90" y="585.2" font-size="14.7" fill="#131722" text-anchor="middle">27</text>
<text x="901.20" y="585.2" font-size="14.2" fill="#131722" font-weight="bold" text-anchor="middle">Dec</text>
<text x="1026.50" y="585.2" font-size="14.7" fill="#131722" text-anchor="middle">5</text>
<text x="1152.30" y="585.2" font-size="14.7" fill="#131722" text-anchor="middle">10</text>
<text x="23.18" y="37.7" font-size="14.5" fill="#131722" textLength="120.74" lengthAdjust="spacing">EUR/USD Spot, 4h</text>
<text x="152.65" y="37.7" font-size="14.5" fill="#131722" textLength="10.15" lengthAdjust="spacingAndGlyphs">O</text>
<text x="163.16" y="37.7" font-size="14.5" fill="#089981" textLength="52.58" lengthAdjust="spacing">1.05689</text>
<text x="224.30" y="37.7" font-size="14.5" fill="#131722">H</text>
<text x="235.18" y="37.7" font-size="14.5" fill="#089981" textLength="51.56" lengthAdjust="spacing">1.05712</text>
<text x="295.70" y="37.7" font-size="14.5" fill="#131722">L</text>
<text x="304.50" y="37.7" font-size="14.5" fill="#089981" textLength="51.40" lengthAdjust="spacing">1.05579</text>
<text x="365.15" y="37.7" font-size="14.5" fill="#131722" textLength="9.42" lengthAdjust="spacingAndGlyphs">C</text>
<text x="375.18" y="37.7" font-size="14.5" fill="#089981" textLength="51.38" lengthAdjust="spacing">1.05697</text>
<text x="437.04" y="37.7" font-size="14.5" fill="#089981" textLength="121.72" lengthAdjust="spacing">+0.00008 (+0.01%)</text>
<text x="22.18" y="58.8" font-size="14.5" fill="#131722" textLength="113.72" lengthAdjust="spacing">MA (20, close, 0)</text>
<text x="22.18" y="79.8" font-size="14.5" fill="#131722" textLength="121.56" lengthAdjust="spacing">MA (100, close, 0)</text>
<text x="22.18" y="100.6" font-size="14.5" fill="#131722" textLength="121.56" lengthAdjust="spacing">MA (200, close, 0)</text>
<text x="22.52" y="342.5" font-size="14.5" fill="#131722" textLength="106.90" lengthAdjust="spacing">Mom (10, close)</text>
<text x="139.02" y="342.5" font-size="14.5" fill="#2196f3" textLength="59.86" lengthAdjust="spacing">&#8722;0.00064</text>
<text x="22.66" y="449.6" font-size="14.5" fill="#131722" textLength="51.76" lengthAdjust="spacing">RSI (14)</text>
<text x="83.34" y="449.6" font-size="14.5" fill="#7e57c2" textLength="37.06" lengthAdjust="spacing">55.78</text>
<g transform="translate(13,610.1) scale(0.675)" fill="#131722"><path d="M14 22H7V11H0V4h14v18zM28 22h-8l7.5-18h8L28 22z"/><circle cx="20" cy="8" r="4"/></g>
<text x="42.22" y="624.8" font-size="15.2" fill="#131722" textLength="87.50" lengthAdjust="spacing">TradingView</text>
</svg>
</body></html>
